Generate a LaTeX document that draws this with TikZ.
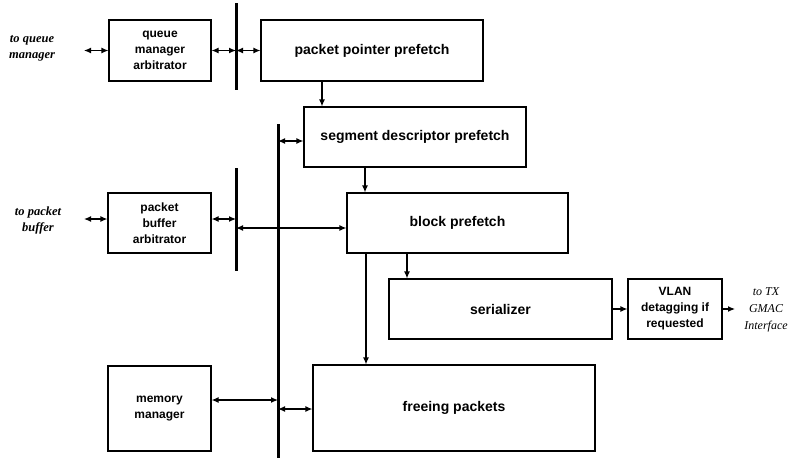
\documentclass[tikz,border=0pt]{standalone}
\usepackage{fontspec}
\setmainfont{Liberation Serif}
\setsansfont{Liberation Sans}
\usetikzlibrary{arrows.meta}
\begin{document}
\begin{tikzpicture}[x=1pt,y=-1pt,
  box/.style={draw,line width=1.2pt,inner sep=0pt,font=\sffamily\bfseries\fontsize{14}{17}\selectfont,align=center},
  sbox/.style={box,font=\sffamily\bfseries\fontsize{12}{16}\selectfont},
  bus/.style={line width=3pt},
  conn/.style={line width=1.2pt,-{Latex[length=7pt,width=6pt]}},
  dconn/.style={line width=1.2pt,{Latex[length=7pt,width=6pt]}-{Latex[length=7pt,width=6pt]}},
  side/.style={font=\bfseries\itshape\fontsize{12.5}{16}\selectfont,align=center,inner sep=0pt}]
\useasboundingbox (0,0) rectangle (801,459);
% boxes
\node[sbox,minimum width=102,minimum height=61] (qma) at (160,50.5) {queue\\manager\\arbitrator};
\node[box,minimum width=222,minimum height=61] (ppp) at (372,50.5) {packet pointer prefetch};
\node[box,minimum width=222,minimum height=60] (sdp) at (415,137) {segment descriptor prefetch};
\node[sbox,minimum width=103,minimum height=60] (pba) at (159.5,223) {packet\\buffer\\arbitrator};
\node[box,minimum width=221,minimum height=60] (bp) at (457.5,223) {block prefetch};
\node[box,minimum width=223,minimum height=60] (ser) at (500.5,309) {serializer};
\node[sbox,minimum width=94,minimum height=60] (vlan) at (675,309) {VLAN\\detagging if\\requested};
\node[box,minimum width=282,minimum height=86] (fp) at (454,408) {freeing packets};
\node[sbox,minimum width=103,minimum height=85] (mm) at (159.5,408.5) {memory\\manager};
% side texts
\node[side] (tqm) at (32,48) {to queue\\manager};
\node[side] (tpb) at (38,220) {to packet\\buffer};
\node[side,font=\itshape\fontsize{12}{17}\selectfont] (ttx) at (766,310) {to TX\\GMAC\\Interface};
% buses
\coordinate (b1t) at (236,3); \coordinate (b1b) at (236,90);
\coordinate (b2t) at (278,124); \coordinate (b2b) at (278,458);
\coordinate (b3t) at (236,168); \coordinate (b3b) at (236,271);
\draw[bus] (b1t) -- (b1b);
\draw[bus] (b2t) -- (b2b);
\draw[bus] (b3t) -- (b3b);
% bus taps
\coordinate (b1a) at (236,50.5);
\coordinate (b2a) at (278,141);
\coordinate (b3a) at (236,219);
\coordinate (b3c) at (236,228);
\coordinate (b2m) at (278,400);
\coordinate (b2f) at (278,409);
\coordinate (qin) at (84,50.5);
\coordinate (pin) at (84,219);
\coordinate (vout) at (735,309);
% connectors
\draw[dconn] (qin) -- (qma.west);
\draw[dconn] (qma.east) -- (b1a);
\draw[dconn] (b1a) -- (ppp.west);
\draw[dconn] (b2a) -- (sdp.west |- b2a);
\draw[dconn] (pin) -- (pba.west |- pin);
\draw[dconn] (pba.east |- b3a) -- (b3a);
\draw[dconn] (b3c) -- (bp.west |- b3c);
\draw[dconn] (mm.east |- b2m) -- (b2m);
\draw[dconn] (b2f) -- (fp.west |- b2f);
\coordinate (c1) at (322,0); \coordinate (c2) at (365,0);
\coordinate (c3) at (407,0); \coordinate (c4) at (366,0);
\draw[conn] (ppp.south -| c1) -- (sdp.north -| c1);
\draw[conn] (sdp.south -| c2) -- (bp.north -| c2);
\draw[conn] (bp.south -| c3) -- (ser.north -| c3);
\draw[conn] (bp.south -| c4) -- (fp.north -| c4);
\draw[conn] (ser.east) -- (vlan.west);
\draw[conn] (vlan.east) -- (vout);
\end{tikzpicture}
\end{document}
